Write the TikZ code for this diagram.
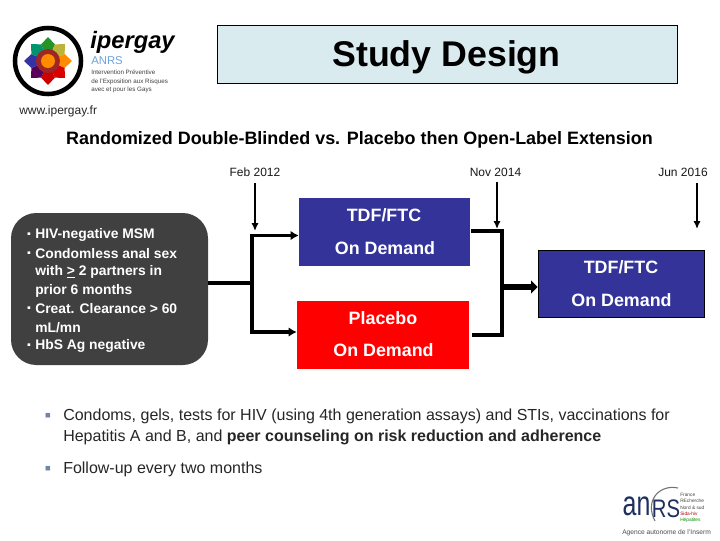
\documentclass[tikz,border=0pt]{standalone}
\usepackage{fontspec}
\setmainfont{Liberation Sans}
\usetikzlibrary{arrows.meta}
\definecolor{titlefill}{HTML}{DAEBEF}
\definecolor{darkbox}{HTML}{404040}
\definecolor{bluebox}{HTML}{333399}
\definecolor{bulletgrey}{HTML}{6F86A8}
\definecolor{anrsblue}{HTML}{1F2F5F}
\tikzset{
  x=0.75pt,y=-0.75pt,
  box/.style={draw=none,minimum width=0,inner sep=0},
  armtext/.style={font=\bfseries\fontsize{13.4}{15}\selectfont,text=white,anchor=center,inner sep=0},
  datelabel/.style={font=\fontsize{9}{11}\selectfont,anchor=center,inner sep=0,text=black!90},
  bodytext/.style={font=\fontsize{12}{14}\selectfont,anchor=west,inner sep=0,text=black!85},
  crit/.style={font=\bfseries\fontsize{10.4}{12}\selectfont,text=white,anchor=west,inner sep=0},
  critdot/.style={font=\bfseries\fontsize{8}{10}\selectfont,text=white,anchor=center,inner sep=0},
  thin arrow/.style={line width=1.3pt,-{Latex[length=6pt,width=5.5pt]}},
  branch/.style={line width=2.6pt,line join=miter},
  branch arrow/.style={branch,-{Latex[length=6pt,width=7pt]}},
  small logo/.style={font=\fontsize{4.7}{5}\selectfont,anchor=west,inner sep=0,text=black!75},
  tiny logo/.style={font=\fontsize{3.6}{4}\selectfont,anchor=west,inner sep=0,text=black!75},
}
\begin{document}
\begin{tikzpicture}
\useasboundingbox (0,0) rectangle (720,540);
\fill[white] (0,0) rectangle (720,540);

% title
\node[draw=black,line width=0.6pt,fill=titlefill,minimum width=345.5pt,minimum height=44pt,inner sep=0] (title) at (447.5,54.5) {};
\node[font=\bfseries\fontsize{26.8}{30}\selectfont,inner sep=0] (titletext) at (446.5,57) {Study Design};

% ipergay logo
\coordinate (flower) at (48,61);
\foreach \a/\c in {270/green!50!black!85,315/yellow!70!black,0/orange!90!yellow,45/red!85!black,90/red!80!black,135/blue!50!red!70!black,180/blue!55!black!80,225/teal!85!green} {
  \fill[\c] (flower) -- +(\a-22.5:18) -- +(\a:24) -- +(\a+22.5:18) -- cycle;
}
\fill[red!55!black!85] (flower) circle (12);
\fill[orange!90!yellow] (flower) circle (7);
\draw[line width=3.4pt] (flower) circle (33);
\node[font=\bfseries\itshape\fontsize{17.8}{19}\selectfont,anchor=west,inner sep=0] (ipergay) at (90,42) {ipergay};
\node[font=\fontsize{8.5}{10}\selectfont,anchor=west,inner sep=0,text=cyan!60!blue!60] (anrs1) at (91,61) {ANRS};
\node[small logo] (l1) at (91,72.5) {Intervention Préventive};
\node[small logo] (l2) at (91,81.5) {de l'Exposition aux Risques};
\node[small logo] (l3) at (91,89.5) {avec et pour les Gays};
\node[font=\fontsize{9}{11}\selectfont,anchor=west,inner sep=0,text=black!85] (www) at (19,111.5) {www.ipergay.fr};

% heading
\node[font=\bfseries\fontsize{13.45}{15}\selectfont,inner sep=0] (heading) at (359.5,140) {Randomized Double-Blinded vs. Placebo then Open-Label Extension};

% dates
\node[datelabel] (feb) at (255,172.5) {Feb 2012};
\node[datelabel] (nov) at (495.5,172.5) {Nov 2014};
\node[datelabel] (jun) at (683,172.5) {Jun 2016};

% boxes
\node[box,fill=darkbox,rounded corners=19pt,minimum width=147.75pt,minimum height=114pt] (crit box) at (109.5,289) {};
\node[box,fill=bluebox,minimum width=128.25pt,minimum height=51pt] (tdf1) at (384.5,232) {};
\node[box,fill=red,minimum width=129pt,minimum height=51pt] (placebo) at (383,335) {};
\node[draw=black,line width=0.5pt,fill=bluebox,minimum width=124.5pt,minimum height=50.5pt,inner sep=0] (tdf2) at (621,284) {};

% box texts
\node[armtext] (t1a) at (384,215.5) {TDF/FTC};
\node[armtext] (t1b) at (385,248.5) {On Demand};
\node[armtext] (t2a) at (383,318.5) {Placebo};
\node[armtext] (t2b) at (383.5,350.5) {On Demand};
\node[armtext] (t3a) at (621,267.5) {TDF/FTC};
\node[armtext] (t3b) at (621.5,300.5) {On Demand};

% criteria
\node[critdot] (c1) at (29,235) {▪};
\node[crit] (c1a) at (35,234.5) {HIV-negative MSM};
\node[critdot] (c2) at (29,254) {▪};
\node[crit] (c2a) at (35,253.5) {Condomless anal sex};
\node[crit] (c2b) at (35,272) {with \underline{>} 2 partners in};
\node[crit] (c2c) at (35,290.5) {prior 6 months};
\node[critdot] (c3) at (29,309) {▪};
\node[crit] (c3a) at (35,308.5) {Creat. Clearance > 60};
\node[crit] (c3b) at (35,327.5) {mL/mn};
\node[critdot] (c4) at (29,346) {▪};
\node[crit] (c4a) at (35,345.5) {HbS Ag negative};

% connectors
\coordinate (feb top) at (255,183);
\coordinate (feb end) at (255,231);
\coordinate (nov top) at (497,182);
\coordinate (nov end) at (497,229);
\coordinate (jun top) at (697,183);
\coordinate (jun end) at (697,229);
\draw[thin arrow] (feb top) -- (feb end);
\draw[thin arrow] (nov top) -- (nov end);
\draw[thin arrow] (jun top) -- (jun end);

\coordinate (split) at (252,283);
\draw[line width=3.6pt] (crit box.east |- split) -- (split);
\coordinate (upper) at (252,235.5);
\coordinate (lower) at (252,332);
\draw[branch arrow] (lower) -- (upper) -- (tdf1.west |- upper);
\draw[branch arrow] (upper) -- (lower) -- (placebo.west |- lower);

\coordinate (ru) at (502,231);
\coordinate (rl) at (502,335);
\draw[branch] (tdf1.east |- ru) ++(1,0) -- (ru) -- (rl) -- ([xshift=2pt]placebo.east |- rl);
\draw[line width=4.6pt,-{Triangle[length=5pt,width=9.5pt]}] (503,287) -- (tdf2.west |- 0,287);

% body
\node[font=\fontsize{7}{8}\selectfont,text=bulletgrey,inner sep=0] (b1) at (48,416) {■};
\node[bodytext] (b1a) at (63,416) {Condoms, gels, tests for HIV (using 4th generation assays) and STIs, vaccinations for};
\node[bodytext] (b1b) at (63,437) {Hepatitis A and B, and \textbf{peer counseling on risk reduction and adherence}};
\node[font=\fontsize{7}{8}\selectfont,text=bulletgrey,inner sep=0] (b2) at (48,469) {■};
\node[bodytext] (b2a) at (63,469) {Follow-up every two months};

% anrs logo
\draw[black!55,line width=0.8pt] (678,488) .. controls (660,484) and (644,500) .. (655,521);
\node[font=\fontsize{26}{28}\selectfont,anchor=center,inner sep=0,text=anrsblue] (an) at (636.5,506) {\scalebox{.72}[1]{an}};
\node[font=\fontsize{19}{21}\selectfont,anchor=center,inner sep=0,text=anrsblue] (rs) at (666,509) {\scalebox{.8}[1]{RS}};
\node[tiny logo] (a1) at (680,495) {France};
\node[tiny logo] (a2) at (680,501) {REcherche};
\node[tiny logo] (a3) at (680,507.5) {Nord \& sud};
\node[tiny logo,text=red!70!black] (a4) at (680,514) {Sida-hiv};
\node[tiny logo,text=green!55!black] (a5) at (680,520.5) {Hépatites};
\node[font=\fontsize{5}{6}\selectfont,anchor=west,inner sep=0,text=black!70] (a6) at (622,532.5) {Agence autonome de l'Inserm};
\end{tikzpicture}
\end{document}
